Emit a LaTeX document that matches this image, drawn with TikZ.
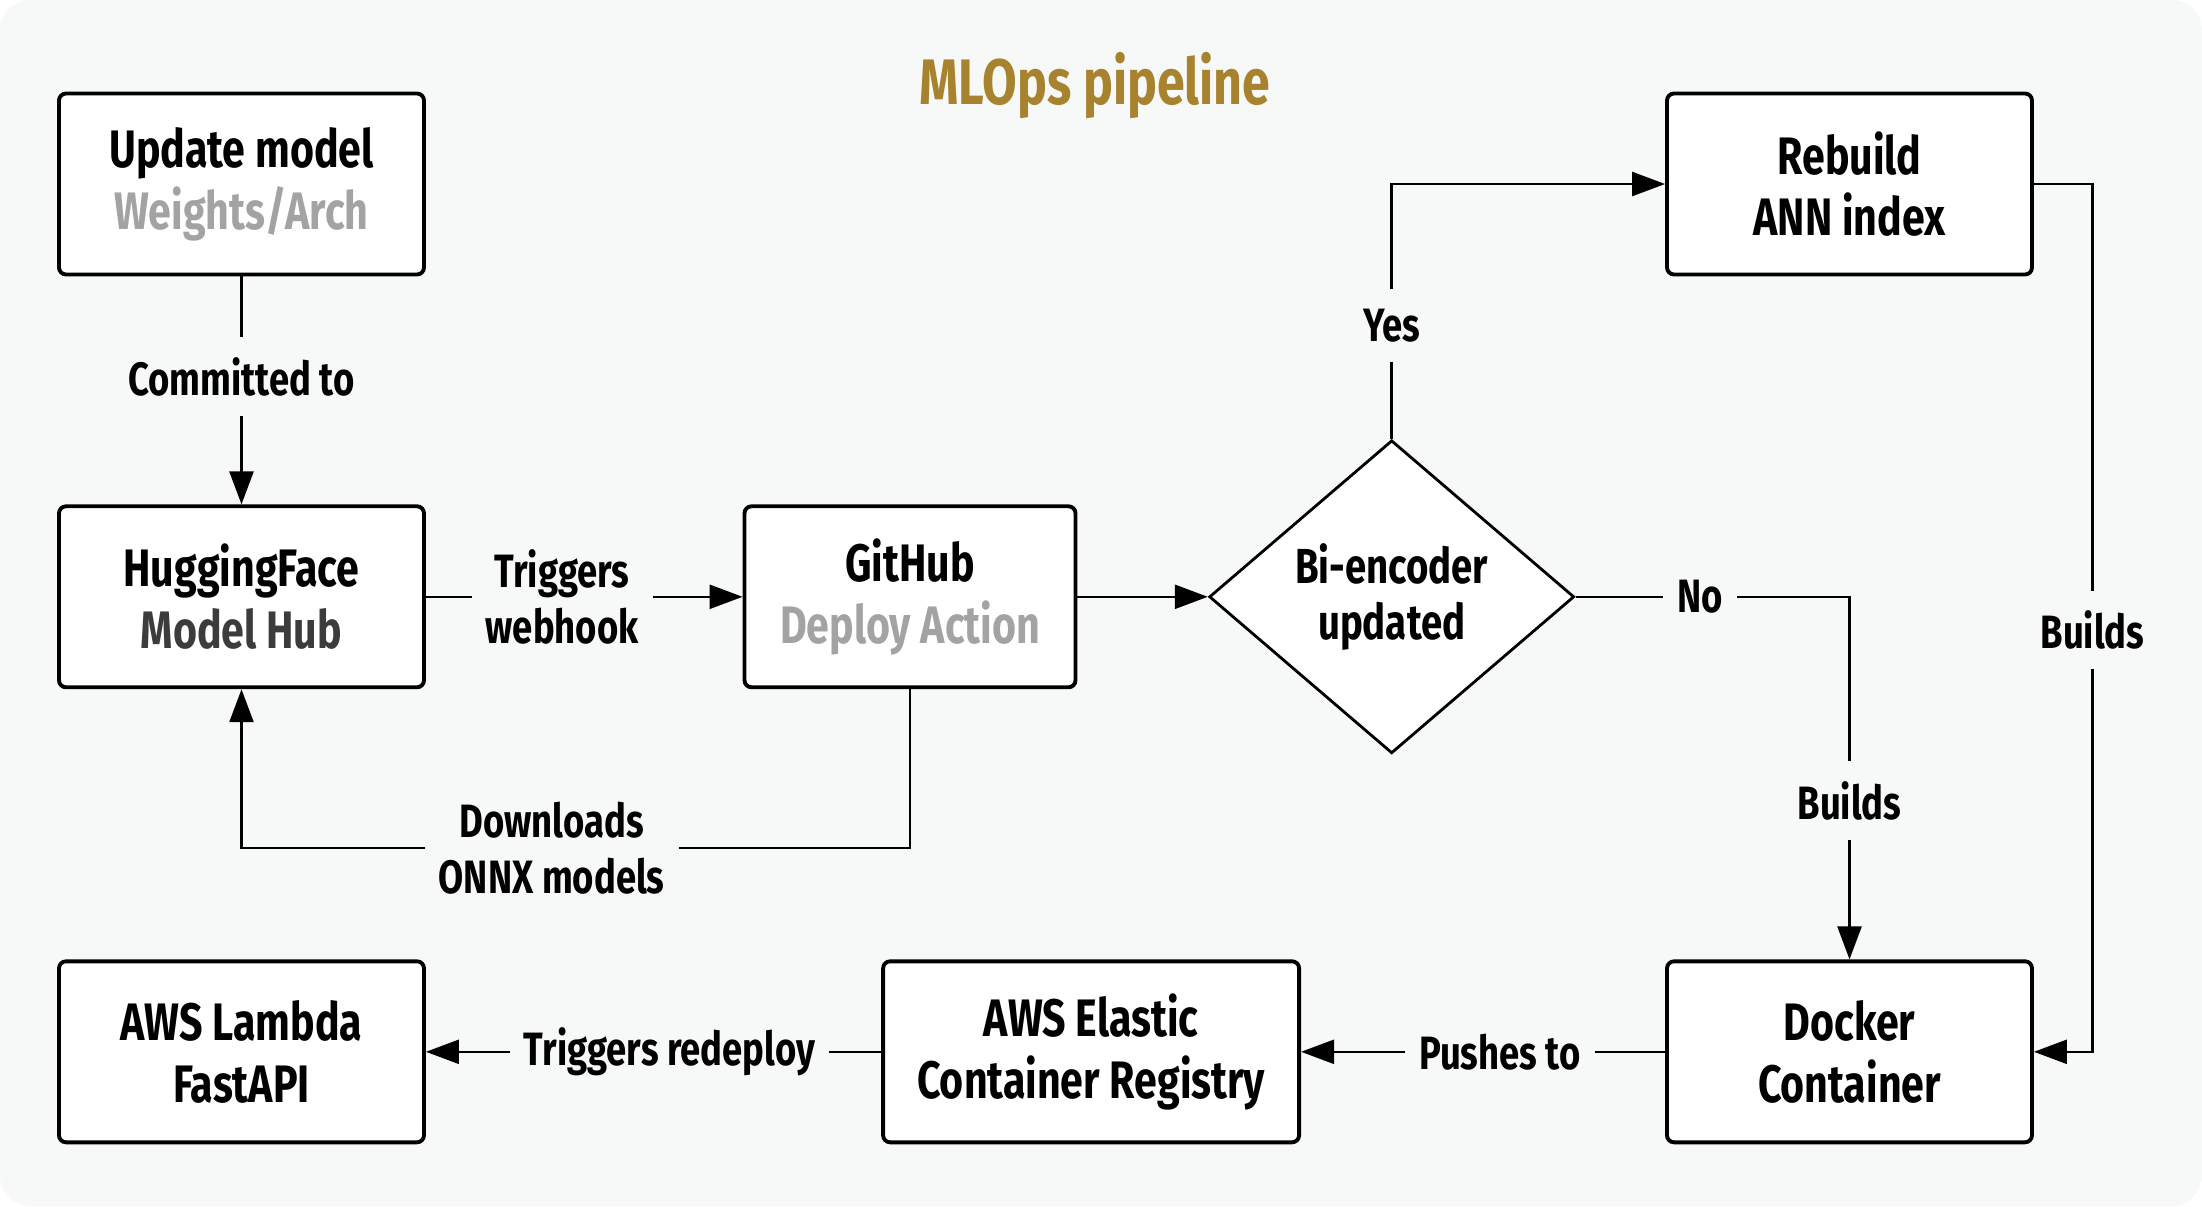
\documentclass[tikz,border=0pt]{standalone}
\usepackage{fontspec}
\setmainfont{Fira Sans}[FakeStretch=0.78]
\usetikzlibrary{shapes.geometric,arrows.meta}
\definecolor{bgc}{HTML}{F7F9F9}
\definecolor{titlec}{HTML}{A8832F}
\definecolor{softc}{HTML}{A3A3A3}
\definecolor{darkc}{HTML}{3C3C3C}
\tikzset{
  box/.style={draw, fill=white, line width=1.1pt, rounded corners=2pt, minimum width=3.65cm, minimum height=1.81cm, align=center, font=\fontsize{15}{17.6}\selectfont\bfseries},
  decision/.style={diamond, draw, fill=white, line width=0.8pt, minimum width=3.65cm, minimum height=3.13cm, inner sep=0pt, align=center, font=\fontsize{14}{15.8}\selectfont\bfseries},
  link/.style={line width=0.7pt, -{Triangle[length=3.3mm,width=2.4mm]}},
  tag/.style={fill=bgc, inner xsep=0.14cm, inner ysep=0.2cm, align=center, font=\fontsize{13.3}{15.8}\selectfont\bfseries}
}
\begin{document}
\begin{tikzpicture}
\useasboundingbox (0,0) rectangle (22.02,-12.06);
\fill[bgc, rounded corners=0.3cm] (0,0) rectangle (22.02,-12.06);
\node[font=\fontsize{18.3}{20}\selectfont\bfseries, text=titlec] (title) at (10.95,-0.86) {MLOps pipeline};
\node[box] (update) at (2.415,-1.84) {Update model\\\textcolor{softc}{Weights/Arch}};
\node[box] (hub) at (2.415,-5.968) {HuggingFace\\\textcolor{darkc}{Model Hub}};
\node[box, minimum width=3.31cm] (github) at (9.1,-5.968) {GitHub\\\textcolor{softc}{Deploy Action}};
\node[decision] (biencoder) at (13.917,-5.968) {Bi-encoder\\updated};
\node[box] (rebuild) at (18.495,-1.84) {Rebuild\\ANN index};
\node[box] (lambda) at (2.415,-10.518) {AWS Lambda\\FastAPI};
\node[box, minimum width=4.16cm] (ecr) at (10.911,-10.518) {AWS Elastic\\Container Registry};
\node[box] (docker) at (18.495,-10.518) {Docker\\Container};
\coordinate (dlturn) at (9.1,-8.482);
\coordinate (rbturn) at (20.924,-10.518);
\draw[link] (update) -- node[tag, pos=0.44] {Committed to} (hub);
\draw[link] (hub) -- node[tag, pos=0.43] {Triggers\\webhook} (github);
\draw[link] (github) -- (biencoder);
\draw[link] (github.south) -- (dlturn) -| node[tag, pos=0.268] {Downloads\\ONNX models} (hub.south);
\draw[link] (biencoder.north) |- node[tag, pos=0.222] {Yes} (rebuild.west);
\draw[link] (biencoder.east) -| node[tag, pos=0.227] {No} node[tag, pos=0.781] {Builds} (docker.north);
\draw[link] (rebuild.east) -| node[tag, pos=0.757] {Builds} (rbturn) -- (docker.east);
\draw[link] (docker) -- node[tag, pos=0.454] {Pushes to} (ecr);
\draw[link] (ecr) -- node[tag, pos=0.465] {Triggers redeploy} (lambda);
\end{tikzpicture}
\end{document}
